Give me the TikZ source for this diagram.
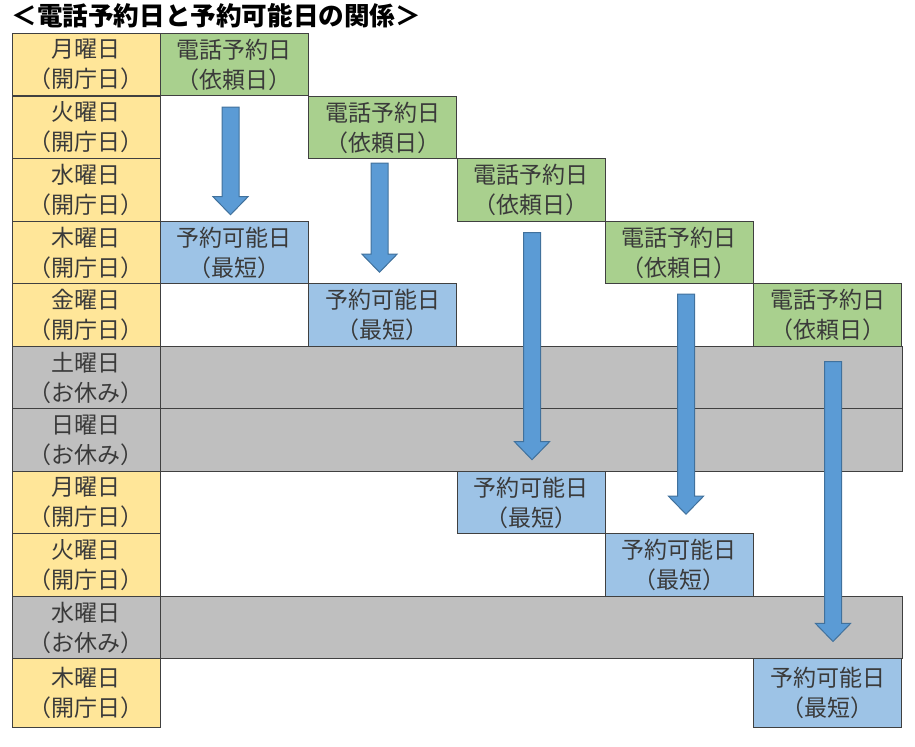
\documentclass[tikz,border=0pt]{standalone}
\usepackage{fontspec}
\usepackage{xcolor}
\usetikzlibrary{calc}
\newfontfamily\cjk{Noto Sans CJK JP}
\definecolor{kaicho}{HTML}{FFE699}
\definecolor{yasumi}{HTML}{BFBFBF}
\definecolor{irai}{HTML}{A9D08E}
\definecolor{kanou}{HTML}{9DC3E6}
\definecolor{lineg}{HTML}{404040}
\definecolor{textg}{HTML}{3A3A3A}
\definecolor{arrowfill}{HTML}{5B9BD5}
\definecolor{arrowedge}{HTML}{41719C}
\tikzset{
  cell/.style={draw=lineg, line width=0.5pt, inner sep=0pt, minimum width=74pt,
    minimum height=31.25pt, align=center, text=textg,
    font=\cjk\fontsize{11.5}{15}\selectfont},
  day/.style={cell, fill=kaicho},
  rest/.style={cell, fill=yasumi},
  iraibox/.style={cell, fill=irai},
  kanoubox/.style={cell, fill=kanou},
  arrowline/.style={draw=arrowedge, fill=arrowfill, line width=0.5pt}
}
\newcommand{\blockarrow}[2]{%
  \draw[arrowline] let \p1=(#1), \p2=(#2) in
    (\x1-4.25pt,\y1) -- (\x1+4.25pt,\y1) -- (\x1+4.25pt,\y2+9pt)
    -- (\x1+8.75pt,\y2+9pt) -- (\x1,\y2) -- (\x1-8.75pt,\y2+9pt)
    -- (\x1-4.25pt,\y2+9pt) -- cycle;}
\begin{document}
\begin{tikzpicture}[x=0.5pt, y=-0.5pt]
\useasboundingbox (0,0) rectangle (915,747);
\node[anchor=west, inner sep=0pt, font=\cjk\bfseries\fontsize{12.8}{16}\selectfont] (ttl) at (11,16) {＜電話予約日と予約可能日の関係＞};
% holidays across the table
\node[rest, minimum width=371pt] (s6) at (531,377.5) {};
\node[rest, minimum width=371pt] (s7) at (531,440) {};
\node[rest, minimum width=371pt] (s10) at (531,627.5) {};
% days
\node[day] (d1) at (86,64.5) {月曜日\\（開庁日）};
\node[day] (d2) at (86,127.5) {火曜日\\（開庁日）};
\node[day] (d3) at (86,190) {水曜日\\（開庁日）};
\node[day] (d4) at (86,252.5) {木曜日\\（開庁日）};
\node[day] (d5) at (86,315) {金曜日\\（開庁日）};
\node[rest] (d6) at (86,377.5) {土曜日\\（お休み）};
\node[rest] (d7) at (86,440) {日曜日\\（お休み）};
\node[day] (d8) at (86,502.5) {月曜日\\（開庁日）};
\node[day] (d9) at (86,565) {火曜日\\（開庁日）};
\node[rest] (d10) at (86,627.5) {水曜日\\（お休み）};
\node[day, minimum height=34pt] (d11) at (86,693) {木曜日\\（開庁日）};
% request days
\node[iraibox] (g1) at (234,64.5) {電話予約日\\（依頼日）};
\node[iraibox] (g2) at (382.5,127.5) {電話予約日\\（依頼日）};
\node[iraibox] (g3) at (531,190) {電話予約日\\（依頼日）};
\node[iraibox] (g4) at (679,252.5) {電話予約日\\（依頼日）};
\node[iraibox] (g5) at (827.5,315) {電話予約日\\（依頼日）};
% earliest days
\node[kanoubox] (b1) at (234,252.5) {予約可能日\\（最短）};
\node[kanoubox] (b2) at (382.5,315) {予約可能日\\（最短）};
\node[kanoubox] (b3) at (531,502.5) {予約可能日\\（最短）};
\node[kanoubox] (b4) at (679,565) {予約可能日\\（最短）};
\node[kanoubox, minimum height=34pt] (b5) at (827.5,693) {予約可能日\\（最短）};
% arrows
\coordinate (a1) at ($(g1.south)+(-3.5,11)$);
\coordinate (z1) at ($(b1.north)+(-3.5,-6)$);
\coordinate (a2) at ($(g2.south)+(-3,4)$);
\coordinate (z2) at ($(b2.north)+(-3,-11)$);
\coordinate (a3) at ($(g3.south)+(1,11)$);
\coordinate (z3) at ($(b3.north)+(1,-11)$);
\coordinate (a4) at ($(g4.south)+(7,10)$);
\coordinate (z4) at ($(b4.north)+(7,-19)$);
\coordinate (a5) at ($(g5.south)+(5.5,15)$);
\coordinate (z5) at ($(b5.north)+(5.5,-17)$);
\blockarrow{a1}{z1}
\blockarrow{a2}{z2}
\blockarrow{a3}{z3}
\blockarrow{a4}{z4}
\blockarrow{a5}{z5}
\end{tikzpicture}
\end{document}
